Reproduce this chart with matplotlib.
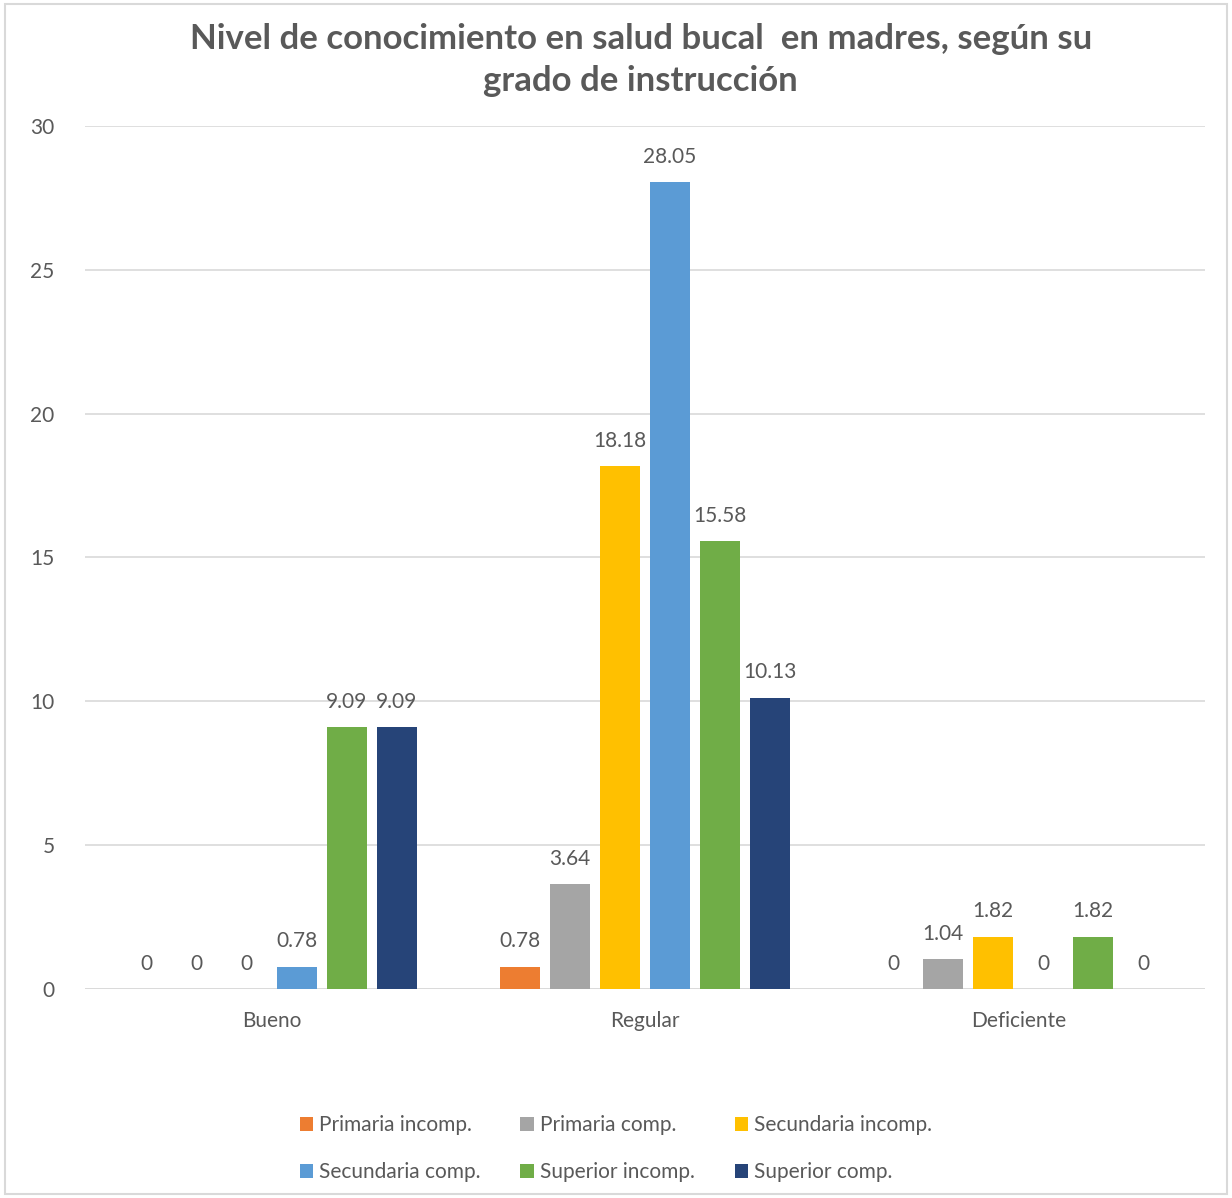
import numpy as np
import matplotlib
matplotlib.use('Agg')
import matplotlib.pyplot as plt
from matplotlib.patches import Rectangle

plt.rcParams['font.family'] = ['Lato', 'DejaVu Sans']

categories = ['Bueno', 'Regular', 'Deficiente']
series = ['Primaria incomp.', 'Primaria comp.', 'Secundaria incomp.',
          'Secundaria comp.', 'Superior incomp.', 'Superior comp.']
primaria_incomp = [0, 0.78, 0]
primaria_comp = [0, 3.64, 1.04]
secundaria_incomp = [0, 18.18, 1.82]
secundaria_comp = [0.78, 28.05, 0]
superior_incomp = [9.09, 15.58, 1.82]
superior_comp = [9.09, 10.13, 0]
values = [primaria_incomp, primaria_comp, secundaria_incomp,
          secundaria_comp, superior_incomp, superior_comp]
colors = ['#ED7D31', '#A5A5A5', '#FFC000', '#5B9BD5', '#70AD47', '#264478']
txt = '#595959'

fig = plt.figure(figsize=(12.32, 11.98), dpi=100)
fig.patches.append(Rectangle((0.004, 0.003), 0.992, 0.994, transform=fig.transFigure,
                             fill=False, edgecolor='#d9d9d9', lw=1.5))
ax = fig.add_axes([0.069, 0.1745, 0.909, 0.7203])

x = np.arange(len(categories))
slot = 0.134
width = 0.107
handles = []
for i, (name, vals) in enumerate(zip(series, values)):
    pos = x + (i - 2.5) * slot
    bars = ax.bar(pos, vals, width, color=colors[i], label=name, zorder=3)
    handles.append(bars)
    labels = ['0' if v == 0 else '%.2f' % v for v in vals]
    ax.bar_label(bars, labels=labels, padding=11, fontsize=15, color=txt)

ax.set_xlim(-0.5, 2.5)
ax.set_ylim(0, 30)
ax.set_yticks(range(0, 31, 5))
ax.set_xticks(x)
ax.set_xticklabels(categories)
ax.tick_params(length=0, labelsize=15, colors=txt)
ax.tick_params(axis='x', pad=16)
ax.tick_params(axis='y', pad=22)
ax.grid(axis='y', color='#d9d9d9', lw=1.2, zorder=0)
for s in ax.spines.values():
    s.set_visible(False)
ax.axhline(0, color='#d9d9d9', lw=1.2, zorder=2)

fig.text(0.52, 0.95, 'Nivel de conocimiento en salud bucal  en madres, según su\ngrado de instrucción',
         ha='center', va='center', fontsize=25, fontweight='bold', color=txt, linespacing=1.38)

order = [0, 3, 1, 4, 2, 5]
fig.legend([handles[k] for k in order], [series[k] for k in order],
           loc='center', bbox_to_anchor=(0.5, 0.041), ncol=3, frameon=False,
           fontsize=15, labelcolor=txt, handlelength=0.65, handleheight=0.65,
           handletextpad=0.3, columnspacing=1.9, labelspacing=1.3)

fig.savefig('out.png', dpi=100)
